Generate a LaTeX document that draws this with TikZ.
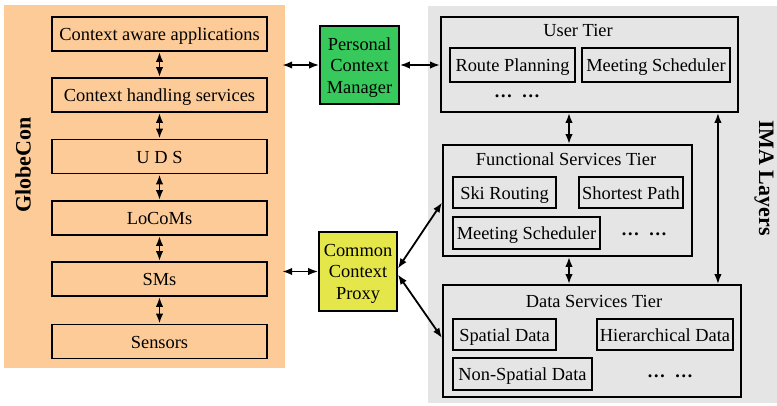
\documentclass[tikz,border=0pt]{standalone}
\usepackage{fontspec}
\setmainfont{Liberation Serif}
\usetikzlibrary{arrows.meta,calc}
\definecolor{peach}{RGB}{253,203,152}
\definecolor{panelgray}{RGB}{229,229,229}
\definecolor{pcmgreen}{RGB}{55,201,92}
\definecolor{proxyyellow}{RGB}{228,230,74}
\tikzset{
  txt/.style={font=\fontsize{18.4}{21.5}\selectfont, inner sep=0pt, align=center},
  oneline/.style={txt, text height=14pt, text depth=1pt},
  layerbox/.style={oneline, draw, line width=1.9pt, fill=peach},
  tierbox/.style={draw, line width=1.9pt, fill=panelgray, inner sep=0pt},
  itembox/.style={oneline, draw, line width=1.9pt, fill=panelgray},
  hub/.style={txt, draw, line width=1.7pt},
  vlabel/.style={font=\fontsize{22}{26}\selectfont\bfseries, inner sep=0pt},
  link/.style={line width=1.8pt, {Latex[length=10pt,width=7.5pt]}-{Latex[length=10pt,width=7.5pt]}}
}
\begin{document}
\begin{tikzpicture}[x=1pt,y=-1pt]
\useasboundingbox (0,0) rectangle (777,405);

% background panels
\node[fill=peach, minimum width=281pt, minimum height=363pt, inner sep=0pt] (globecon) at (144.5,186.5) {};
\node[fill=panelgray, minimum width=349pt, minimum height=397pt, inner sep=0pt] (ima) at (602.5,204.5) {};
\node[vlabel, rotate=90] (gclabel) at (23,165) {GlobeCon};
\node[vlabel, rotate=-90] (imalabel) at (764,178) {IMA Layers};

% GlobeCon layer stack
\node[layerbox, minimum width=215pt, minimum height=34pt] (apps) at (159.5,34) {Context aware applications};
\node[layerbox, minimum width=215pt, minimum height=34pt] (chs) at (159.5,95) {Context handling services};
\node[layerbox, minimum width=215pt, minimum height=34pt] (uds) at (159.5,156.5) {U D S};
\node[layerbox, minimum width=215pt, minimum height=34pt] (locoms) at (159.5,218) {LoCoMs};
\node[layerbox, minimum width=215pt, minimum height=34pt] (sms) at (159.5,279) {SMs};
\node[layerbox, minimum width=215pt, minimum height=34pt] (sensors) at (159.5,341.5) {Sensors};

% connecting components
\node[hub, fill=pcmgreen, minimum width=79pt, minimum height=78pt] (pcm) at (359.5,65) {};
\node[txt] (pcmtext) at (359.5,67.5) {Personal\\Context\\Manager};
\node[hub, fill=proxyyellow, minimum width=78pt, minimum height=79pt] (ccp) at (358,271.5) {};
\node[txt] (ccptext) at (358,273.5) {Common\\Context\\Proxy};

% IMA tiers
\node[tierbox, minimum width=297pt, minimum height=95pt] (user) at (589.5,64.5) {};
\node[oneline] (usertitle) at (578,29.5) {User Tier};
\node[itembox, minimum width=125pt, minimum height=34pt] (route) at (512.5,65) {Route Planning};
\node[itembox, minimum width=148pt, minimum height=34pt] (meet) at (656,65) {Meeting Scheduler};
\node[txt] (userdots) at (517,96) {\textbf{…\enspace…}};

\node[tierbox, minimum width=249pt, minimum height=111pt] (func) at (567.5,200.5) {};
\node[oneline] (functitle) at (566,158.5) {Functional Services Tier};
\node[itembox, minimum width=103pt, minimum height=31pt] (ski) at (504.5,192.5) {Ski Routing};
\node[itembox, minimum width=104pt, minimum height=31pt] (short) at (631,192.5) {Shortest Path};
\node[itembox, minimum width=147pt, minimum height=32pt] (meet2) at (526.5,233) {Meeting Scheduler};
\node[txt] (funcdots) at (644,234) {\textbf{…\enspace…}};

\node[tierbox, minimum width=298pt, minimum height=112pt] (data) at (592,341) {};
\node[oneline] (datatitle) at (594,300.5) {Data Services Tier};
\node[itembox, minimum width=103pt, minimum height=31pt] (spatial) at (504.5,334.5) {Spatial Data};
\node[itembox, minimum width=136pt, minimum height=31pt] (hier) at (665,334.5) {Hierarchical Data};
\node[itembox, minimum width=139pt, minimum height=32pt] (nonsp) at (522.5,374) {Non-Spatial Data};
\node[txt] (datadots) at (670,376) {\textbf{…\enspace…}};

% links inside the GlobeCon stack
\draw[link] (apps.south) -- (chs.north);
\draw[link] (chs.south) -- (uds.north);
\draw[link] (uds.south) -- (locoms.north);
\draw[link] (locoms.south) -- (sms.north);
\draw[link] (sms.south) -- (sensors.north);

% links to and from the connecting components
\draw[link] ($(globecon.east |- pcm.west)+(-3,0)$) -- (pcm.west);
\draw[link] (pcm.east) -- (user.west |- pcm.east);
\draw[link] ($(globecon.east |- ccp.west)+(-3,0)$) -- (ccp.west);
\draw[link] ($(ccp.east)+(0,-3)$) -- ($(func.west)+(0,2)$);
\draw[link] ($(ccp.east)+(0,3)$) -- ($(data.west)+(0,-3)$);

% links between the tiers
\coordinate (tiercol) at (569,0);
\draw[link] (tiercol |- func.north) -- (tiercol |- user.south);
\draw[link] (tiercol |- func.south) -- (tiercol |- data.north);
\coordinate (bypass) at ($(data.north east)+(-24,0)$);
\draw[link] (bypass) -- (bypass |- user.south);
\end{tikzpicture}
\end{document}
